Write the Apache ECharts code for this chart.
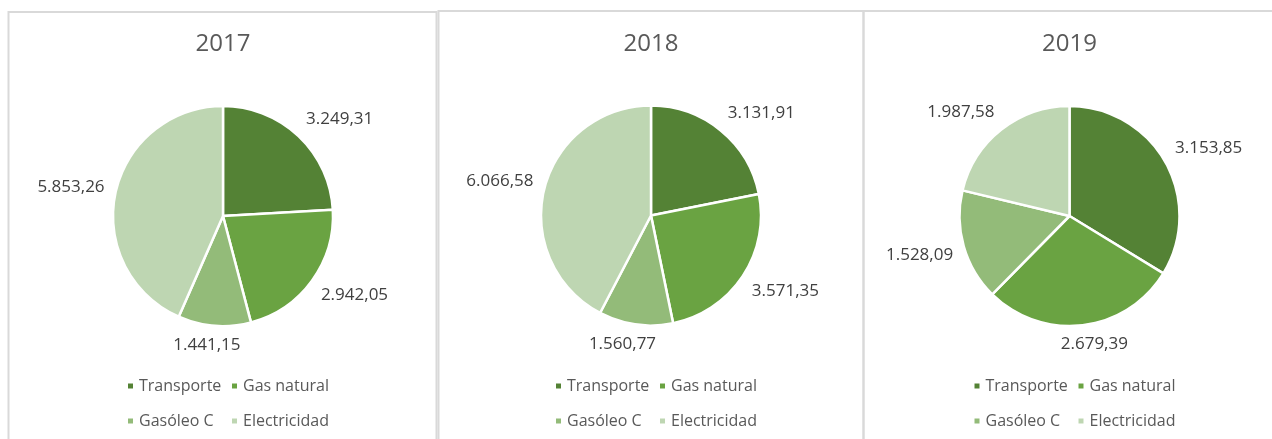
<!DOCTYPE html>
<html lang="es">
<head>
<meta charset="utf-8">
<title>Consumo por fuente 2017–2019</title>
<script src="https://cdn.jsdelivr.net/npm/echarts@6/dist/echarts.min.js"></script>
<style>
  html, body { margin: 0; padding: 0; background: #ffffff; }
  #chart { width: 1272px; height: 439px; }
</style>
</head>
<body>
<div id="chart"></div>
<script>
// Categories and yearly values
const categories = ['Transporte', 'Gas natural', 'Gasóleo C', 'Electricidad'];
const years = ['2017', '2018', '2019'];
const values2017 = [3249.31, 2942.05, 1441.15, 5853.26];
const values2018 = [3131.91, 3571.35, 1560.77, 6066.58];
const values2019 = [3153.85, 2679.39, 1528.09, 1987.58];
const yearValues = [values2017, values2018, values2019];

// Green shades, one per category
const palette = ['#548235', '#6aa342', '#93bb79', '#bed6b2'];

// Panel layout: pie centres, radius and frames
const pieCenters = [[223, 216], [651, 215.5], [1069.5, 216]];
const pieRadius = 110;
const frames = [
  { x: 8.5, y: 12, w: 428, h: 500 },
  { x: 438.5, y: 11, w: 425, h: 500 },
  { x: 863.5, y: 11, w: 440, h: 500 }
];

const FONT = '"Open Sans", "Liberation Sans", sans-serif';

// Spanish number format: 3.249,31
function fmtEs(v) {
  const parts = v.toFixed(2).split('.');
  const intPart = parts[0].replace(/\B(?=(\d{3})+(?!\d))/g, '.');
  return intPart + ',' + parts[1];
}

const clamp1 = v => Math.max(-1, Math.min(1, v));

// Places each value label just outside the arc, at the slice's mid angle
function makeLabelLayout(chartIdx) {
  return function (params) {
    let px, py, ux, uy;
    const pts = params.labelLinePoints;
    if (pts && pts.length >= 2) {
      const dx = pts[1][0] - pts[0][0];
      const dy = pts[1][1] - pts[0][1];
      const len = Math.hypot(dx, dy) || 1;
      ux = dx / len; uy = dy / len;
      px = pts[0][0]; py = pts[0][1];
    } else {
      const vals = yearValues[chartIdx];
      const total = vals.reduce((a, b) => a + b, 0);
      let before = 0;
      for (let i = 0; i < params.dataIndex; i++) before += vals[i];
      const ang = (before + vals[params.dataIndex] / 2) / total * Math.PI * 2;
      ux = Math.sin(ang); uy = -Math.cos(ang);
      px = pieCenters[chartIdx][0] + ux * pieRadius;
      py = pieCenters[chartIdx][1] + uy * pieRadius;
    }
    const gap = 11;
    const w = params.labelRect.width;
    const h = params.labelRect.height;
    return {
      x: px + ux * gap + clamp1(ux * 2.5) * w / 2,
      y: py + uy * gap + clamp1(uy * 2.5) * h / 2,
      align: 'center',
      verticalAlign: 'middle'
    };
  };
}

const titles = [];
const legends = [];
const series = [];

years.forEach((year, idx) => {
  const [cx, cy] = pieCenters[idx];

  titles.push({
    text: year,
    left: cx,
    top: 32,
    textAlign: 'center',
    padding: 0,
    textStyle: { fontFamily: FONT, fontSize: 24, fontWeight: 'normal', color: '#595959' }
  });

  // Legend as a 2x2 grid: one single-item legend per cell
  const cols = [cx - 97, cx + 7];
  const rows = [386, 421];
  categories.forEach((name, ci) => {
    legends.push({
      data: [name],
      left: cols[ci % 2],
      top: rows[Math.floor(ci / 2)] - 10,
      padding: 0,
      icon: 'rect',
      itemWidth: 7,
      itemHeight: 7,
      selectedMode: false,
      textStyle: { fontFamily: FONT, fontSize: 16, color: '#595959', lineHeight: 20, padding: [0, 0, 0, 0] }
    });
  });

  series.push({
    type: 'pie',
    name: year,
    center: [cx, cy],
    radius: pieRadius,
    startAngle: 90,
    clockwise: true,
    avoidLabelOverlap: false,
    animation: false,
    itemStyle: { borderColor: '#ffffff', borderWidth: 2.5 },
    emphasis: { scale: false },
    label: {
      show: true,
      position: 'outside',
      fontFamily: FONT,
      fontSize: 17,
      color: '#404040',
      formatter: p => fmtEs(p.value)
    },
    labelLine: { show: true, length: 10, length2: 0, lineStyle: { opacity: 0, width: 0 } },
    labelLayout: makeLabelLayout(idx),
    data: categories.map((name, ci) => ({
      name: name,
      value: yearValues[idx][ci],
      itemStyle: { color: palette[ci] }
    }))
  });
});

const chart = echarts.init(document.getElementById('chart'), null, { renderer: 'canvas' });
chart.setOption({
  backgroundColor: '#ffffff',
  color: palette,
  title: titles,
  legend: legends,
  tooltip: { show: false },
  graphic: frames.map(f => ({
    type: 'rect',
    silent: true,
    z: -10,
    shape: { x: f.x, y: f.y, width: f.w, height: f.h },
    style: { fill: 'none', stroke: '#d9d9d9', lineWidth: 2 }
  })),
  series: series
});
</script>
</body>
</html>
